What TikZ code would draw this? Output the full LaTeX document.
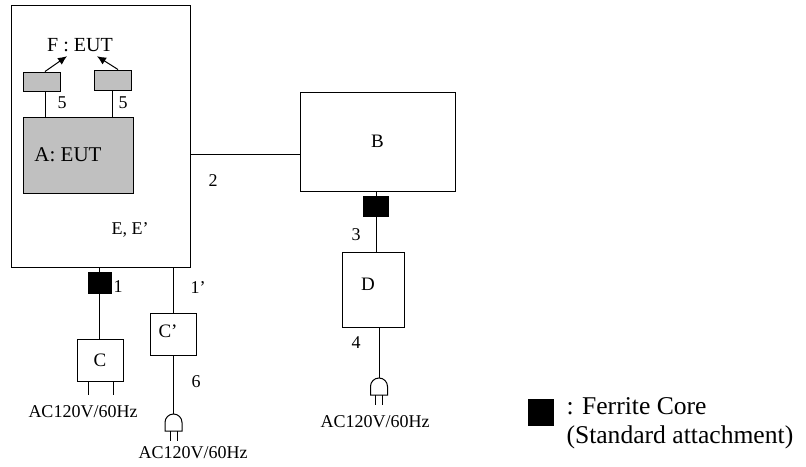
\documentclass[tikz,border=0pt]{standalone}
\usepackage{fontspec}
\setmainfont{Liberation Serif}
\usetikzlibrary{arrows.meta}
\definecolor{eutgray}{RGB}{192,192,192}
\tikzset{
  unit/.style={draw, line width=1pt, inner sep=0pt, font=\fontsize{19}{21}\selectfont},
  core/.style={draw, fill=black, inner sep=0pt},
  num/.style={inner sep=0pt, font=\fontsize{18}{20}\selectfont},
  plug/.pic={
    \draw (-8.5,17) -- (-8.5,8.5) arc[start angle=180, end angle=360, radius=8.5]
      -- (8.5,17) -- cycle;
    \draw (-3.5,17) -- (-3.5,27) (3.5,17) -- (3.5,27);
  }
}
\begin{document}
\begin{tikzpicture}[x=1pt,y=-1pt,line width=1pt]
  \useasboundingbox (0,0) rectangle (806,466);
  % EUT cabinet
  \node[unit, minimum width=179pt, minimum height=262pt] (ebox) at (100.5,136) {};
  \node[num] (elabel) at (130,230) {E, E’};
  \node[unit, fill=eutgray, minimum width=110pt, minimum height=76pt] (abox) at (78,155) {};
  \node[num, font=\fontsize{21}{23}\selectfont] (alabel) at (68,155) {A: EUT};
  \node[unit, fill=eutgray, minimum width=37pt, minimum height=19pt] (fl) at (41.5,81.5) {};
  \node[unit, fill=eutgray, minimum width=37pt, minimum height=20pt] (fr) at (112.5,80) {};
  \node[num, font=\fontsize{20}{22}\selectfont] (fe) at (80,45) {F : EUT};
  \draw ([xshift=3.5pt]fl.south) -- ([xshift=3.5pt]fl.south |- abox.north);
  \draw (fr.south) -- (fr.south |- abox.north);
  \draw[-{Latex[length=9pt,width=8pt]}] ([xshift=3.5pt]fl.north) -- ([xshift=-13pt,yshift=-4pt]fe.south);
  \draw[-{Latex[length=9pt,width=8pt]}] ([xshift=5.5pt]fr.north) -- ([xshift=17pt,yshift=-4pt]fe.south);
  \node[num] (n5l) at (62,103) {5};
  \node[num] (n5r) at (123,103) {5};
  % cable 2 to B
  \node[unit, minimum width=155pt, minimum height=99pt] (bbox) at (377.5,141.5) {B};
  \coordinate (j2) at (0,154);
  \draw (ebox.east |- j2) -- (bbox.west |- j2);
  \node[num] (n2) at (213,181) {2};
  % B -> D
  \node[core, minimum width=25pt, minimum height=20pt] (fb) at (376,206) {};
  \node[unit, minimum width=62pt, minimum height=75pt] (dbox) at (373,289.5) {};
  \node[num, font=\fontsize{19}{21}\selectfont] (dlabel) at (368,284) {D};
  \draw (bbox.south -| fb) -- (fb.north);
  \draw (fb.south) -- (fb.south |- dbox.north);
  \node[num] (n3) at (356,235) {3};
  \coordinate (pd) at (379,378);
  \draw (dbox.south -| pd) -- (pd);
  \pic at (pd) {plug};
  \node[num] (n4) at (356,343) {4};
  \node[num] (acd) at (375,422) {AC120V/60Hz};
  % C
  \node[core, minimum width=23pt, minimum height=21pt] (fc) at (99.5,282.5) {};
  \node[unit, minimum width=46pt, minimum height=42pt] (cbox) at (100,360) {C};
  \draw (ebox.south -| fc) -- (fc.north);
  \draw (fc.south) -- (fc.south |- cbox.north);
  \draw ([xshift=-12pt]cbox.south) -- ++(0,13);
  \draw ([xshift=13pt]cbox.south) -- ++(0,13);
  \node[num] (n1) at (118,287) {1};
  \node[num] (acc) at (83,412) {AC120V/60Hz};
  % C'
  \node[unit, minimum width=46pt, minimum height=42pt] (cpbox) at (173,334) {};
  \node[num, font=\fontsize{19}{21}\selectfont] (cplabel) at (168,331) {C’};
  \draw (ebox.south -| cpbox) -- (cpbox.north);
  \coordinate (pc) at (173.5,414);
  \draw (cpbox.south -| pc) -- (pc);
  \pic at (pc) {plug};
  \node[num] (n1p) at (198,288) {1’};
  \node[num] (n6) at (196,382) {6};
  \node[num] (accp) at (193,453) {AC120V/60Hz};
  % legend
  \node[core, minimum width=25pt, minimum height=26pt] (legcore) at (540.5,412) {};
  \node[inner sep=0pt, anchor=west, align=left, font=\fontsize{25.6}{29}\selectfont] (legtext)
    at (566,423.5) {: Ferrite Core\\(Standard attachment)};
\end{tikzpicture}
\end{document}
